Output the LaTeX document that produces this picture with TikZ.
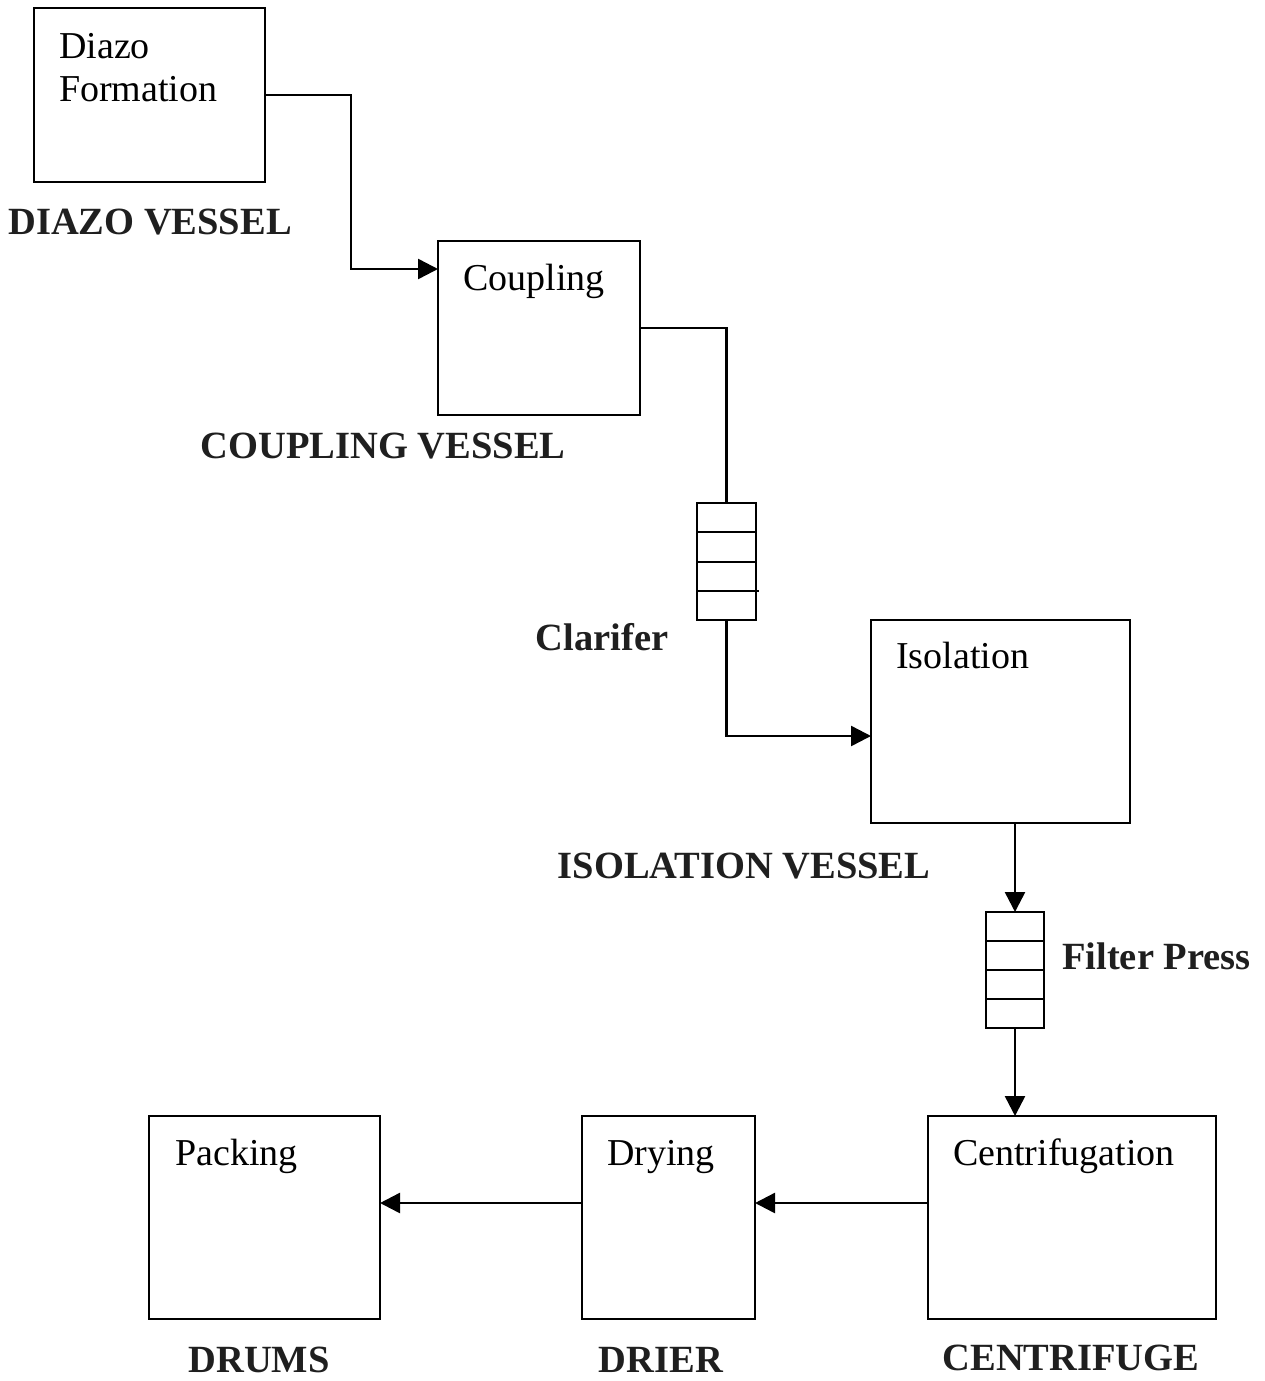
\documentclass[tikz,border=0pt]{standalone}
\usepackage{fontspec}
\setmainfont{Liberation Serif}
\usetikzlibrary{arrows.meta,calc}
\begin{document}
\begin{tikzpicture}[x=1pt,y=-1pt,
  box/.style={draw,line width=2pt,rectangle,inner sep=0pt,outer sep=0pt,anchor=north west},
  intext/.style={anchor=base west,inner sep=0pt,font=\fontsize{38}{43}\selectfont,align=left},
  lbl/.style={anchor=center,inner sep=0pt,font=\fontsize{38.5}{43}\selectfont\bfseries,text=black!88},
  conn/.style={line width=2.5pt},
  arr/.style={conn,-{Triangle[length=20pt,width=20pt]}},
  sep/.style={line width=2pt}]
\useasboundingbox (0,0) rectangle (1264,1381);
% boxes
\node[box,minimum width=231pt,minimum height=174pt] (diazo) at (34,8) {};
\node[box,minimum width=202pt,minimum height=174pt] (coup) at (438,241) {};
\node[box,minimum width=59pt,minimum height=117pt] (clar) at (697,503) {};
\node[box,minimum width=259pt,minimum height=203pt] (iso) at (871,620) {};
\node[box,minimum width=58pt,minimum height=116pt] (filt) at (986,912) {};
\node[box,minimum width=288pt,minimum height=203pt] (cent) at (928,1116) {};
\node[box,minimum width=173pt,minimum height=203pt] (dry) at (582,1116) {};
\node[box,minimum width=231pt,minimum height=203pt] (pack) at (149,1116) {};
% inner lines of clarifier and filter press
\foreach \f in {0.25,0.5}{
  \draw[sep] ($(clar.north west)!\f!(clar.south west)$) -- ($(clar.north east)!\f!(clar.south east)$);
}
\draw[sep] ($(clar.north west)!0.75!(clar.south west)$) -- ([xshift=3pt]$(clar.north east)!0.75!(clar.south east)$);
\foreach \f in {0.25,0.5,0.75}{
  \draw[sep] ($(filt.north west)!\f!(filt.south west)$) -- ($(filt.north east)!\f!(filt.south east)$);
}
% texts in boxes
\node[intext] (t1) at (59,101) {Diazo\\Formation};
\node[intext] (t2) at (463,290) {Coupling};
\node[intext] (t3) at (896,668) {Isolation};
\node[intext] (t4) at (953,1165) {Centrifugation};
\node[intext] (t5) at (607,1165) {Drying};
\node[intext] (t6) at (175,1165) {Packing};
% labels
\node[lbl] (l1) at (150,222) {DIAZO VESSEL};
\node[lbl] (l2) at (383,446) {COUPLING VESSEL};
\node[lbl] (l3) at (602,637) {Clarifer};
\node[lbl] (l4) at (744,866) {ISOLATION VESSEL};
\node[lbl,anchor=west] (l5) at (1062,956) {Filter Press};
\node[lbl] (l6) at (1071,1358) {CENTRIFUGE};
\node[lbl] (l7) at (661,1360) {DRIER};
\node[lbl] (l8) at (259,1360) {DRUMS};
% connectors
\coordinate (bend1) at (351,269);
\draw[arr] (diazo.east) -| (bend1) -- (coup.west |- bend1);
\draw[conn] (coup.east) -| (clar.north);
\coordinate (bend3) at (726.5,736);
\draw[arr] (clar.south) -- (bend3) -- (iso.west |- bend3);
\draw[arr] (filt.north |- iso.south) -- (filt.north);
\draw[arr] (filt.south) -- (filt.south |- cent.north);
\coordinate (row) at (0,1203);
\draw[arr] (cent.west |- row) -- (dry.east |- row);
\draw[arr] (dry.west |- row) -- (pack.east |- row);
\end{tikzpicture}
\end{document}
